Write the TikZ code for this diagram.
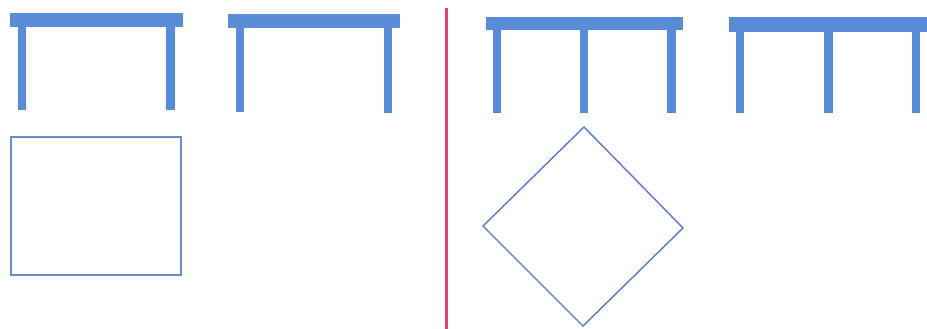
\documentclass[tikz,border=0pt]{standalone}
\definecolor{tableblue}{RGB}{88,140,214}
\definecolor{divred}{RGB}{222,70,110}
\definecolor{shapeblue}{RGB}{104,140,204}
\definecolor{diamondblue}{RGB}{92,120,200}
\tikzset{
  tabletop/.style={fill=tableblue,draw=none},
  tableleg/.style={fill=tableblue,draw=none},
  outline/.style={draw=shapeblue,line width=2pt,fill=none},
  thinoutline/.style={draw=diamondblue,line width=1.4pt,fill=none},
  divider/.style={draw=divred,line width=3pt}
}
\begin{document}
\begin{tikzpicture}[x=1pt,y=-1pt]
\useasboundingbox (0,0) rectangle (927,329);
\fill[white] (0,0) rectangle (927,329);
% table 1 (two legs)
\fill[tabletop] (10,13) rectangle (183,27);
\fill[tableleg] (18,27) rectangle (26,110);
\fill[tableleg] (166,27) rectangle (175,110);
% table 2 (two legs)
\fill[tabletop] (228,14) rectangle (400,28);
\fill[tableleg] (236,28) rectangle (244,112);
\fill[tableleg] (384,28) rectangle (392,113);
% divider
\draw[divider] (446,8) -- (446,329);
% table 3 (three legs)
\fill[tabletop] (486,17) rectangle (683,30);
\fill[tableleg] (493,30) rectangle (501,113);
\fill[tableleg] (580,30) rectangle (588,113);
\fill[tableleg] (667,30) rectangle (676,113);
% table 4 (three legs)
\fill[tabletop] (729,17) rectangle (927,32);
\fill[tableleg] (736,32) rectangle (744,113);
\fill[tableleg] (824,32) rectangle (833,113);
\fill[tableleg] (912,32) rectangle (920,113);
% square
\draw[outline] (11,137) rectangle (181,275);
% diamond
\draw[thinoutline] (584,127) -- (683,228) -- (583,326) -- (483,226) -- cycle;
\end{tikzpicture}
\end{document}
